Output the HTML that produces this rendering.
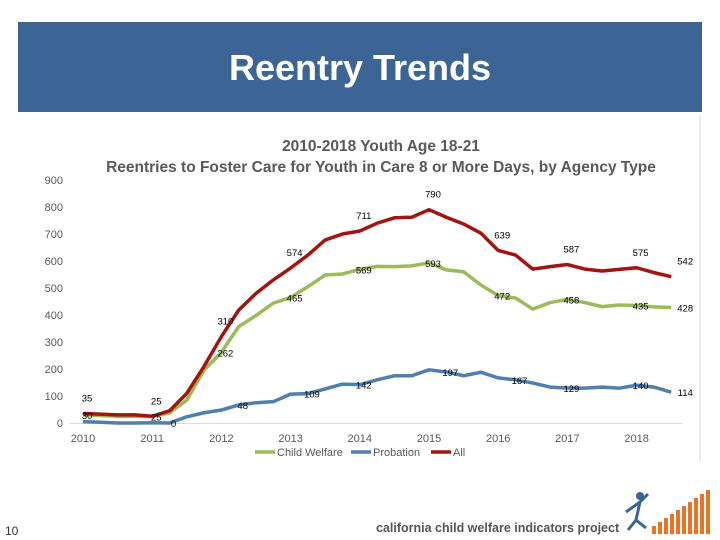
<!DOCTYPE html>
<html><head><meta charset="utf-8"><style>
body{margin:0;width:720px;height:540px;background:#fff;font-family:"Liberation Sans",sans-serif;overflow:hidden;position:relative}
#hdr{position:absolute;left:18px;top:22px;width:684px;height:90px;background:#3c6596}
#hdr h1{margin:0;color:#fff;font-size:36px;font-weight:bold;text-align:center;line-height:92px;font-family:"Liberation Sans",sans-serif}
svg{position:absolute;left:0;top:0}
</style></head><body>
<div id="hdr"><h1>Reentry Trends</h1></div>
<svg id="c" width="720" height="540"></svg>
<script>
const years=["2010","2011","2012","2013","2014","2015","2016","2017","2018"];
const yTicks=[0,100,200,300,400,500,600,700,800,900];
const allVals=[35,33,30,30,25,45,110,210,320,418,480,530,574,622,678,700,711,740,760,762,790,762,737,703,639,622,570,579,587,570,563,569,575,557,542];
const cwVals=[30,28,25,25,25,37,85,196,262,357,398,444,465,505,548,552,569,580,579,582,593,567,560,511,472,463,422,446,458,446,431,437,435,430,428];
const probVals=[5,3,0,0,1,0,23,38,48,67,75,79,107,109,126,144,142,160,175,175,197,189,175,188,167,160,148,133,129,129,133,129,140,133,114];
const allLabels=[[0,"35"],[4,"25"],[8,"310"],[12,"574"],[16,"711"],[20,"790"],[24,"639"],[28,"587"],[32,"575"],[34,"542"]];
const cwLabels=[[0,"30"],[4,"25"],[8,"262"],[12,"465"],[16,"569"],[20,"593"],[24,"472"],[28,"458"],[32,"435"],[34,"428"]];
const probLabels=[[5,"0"],[9,"48"],[13,"109"],[16,"142"],[21,"197"],[25,"167"],[28,"129"],[32,"140"],[34,"114"]];
const x=i=>83+i*17.3;
const y=v=>423-v*0.27;
const svg=document.getElementById('c');
const NS="http://www.w3.org/2000/svg";
function mk(t,a,txt){const e=document.createElementNS(NS,t);for(const k in a)e.setAttribute(k,a[k]);if(txt!==undefined)e.textContent=txt;svg.appendChild(e);return e;}
let e;
e=mk('line',{x1:700,y1:115,x2:700,y2:462,stroke:'#d9d9d9'});


e=mk('text',{x:381,y:151,'text-anchor':'middle','font-size':15.5,'font-weight':'bold',fill:'#595959'},'2010-2018 Youth Age 18-21');


e=mk('text',{x:381,y:172,'text-anchor':'middle','font-size':15.5,'font-weight':'bold',fill:'#595959'},'Reentries to Foster Care for Youth in Care 8 or More Days, by Agency Type');


yTicks.forEach(t=>{e=mk('text',{x:63,y:y(t)+4,'text-anchor':'end','font-size':11,fill:'#595959'},String(t));

});
e=mk('line',{x1:70,y1:423.5,x2:682,y2:423.5,stroke:'#d9d9d9'});


years.forEach((yr,i)=>{e=mk('text',{x:x(i*4),y:442,'text-anchor':'middle','font-size':11,fill:'#595959'},yr);

});
function line(vals,col,name){const d=vals.map((v,i)=>(i?'L':'M')+x(i)+' '+y(v)).join(' ');
e=mk('path',{d:d,fill:'none',stroke:col,'stroke-width':3.5,'stroke-linejoin':'round'});

}
line(probVals,'#4f7fae','probation-line');
line(cwVals,'#9bbb59','child-welfare-line');
line(allVals,'#a3140f','all-line');
function labels(arr,vals,dy,name){arr.forEach(([i,t])=>{e=mk('text',{x:x(i)+(i===34?14:4),y:y(vals[i])+dy,'text-anchor':'middle','font-size':9.5,fill:'#000'},t);

});}
labels(allLabels,allVals,-12,'all-data-label');
labels(cwLabels,cwVals,4,'child-welfare-data-label');
labels(probLabels,probVals,4,'probation-data-label');
const leg=[['Child Welfare','#9bbb59',255],['Probation','#4f7fae',351],['All','#a3140f',431]];
leg.forEach(([t,c,lx])=>{e=mk('line',{x1:lx,y1:452,x2:lx+20,y2:452,stroke:c,'stroke-width':3.5});


e=mk('text',{x:lx+22,y:456,'font-size':11,fill:'#595959'},t);

});
e=mk('text',{x:5,y:535,'font-size':12,fill:'#333'},'10');


e=mk('text',{x:376,y:532,'font-size':12.5,'font-weight':'bold',fill:'#555'},'california child welfare indicators project');


[[652,8],[658,12],[664,16],[670,20],[676,24],[682,28],[688,32],[694,36],[700,40],[706,44]].forEach(([bx,h])=>{e=mk('rect',{x:bx,y:534-h,width:4,height:h,fill:'#e8742a'});

});
e=mk('circle',{cx:640,cy:496,r:4,fill:'#3c6596'});


e=mk('path',{d:'M626 512 L640 502 L648 494 M640 502 L636 520 L628 530 M636 520 L646 528',stroke:'#3c6596','stroke-width':3,fill:'none'});


</script>
</body></html>
